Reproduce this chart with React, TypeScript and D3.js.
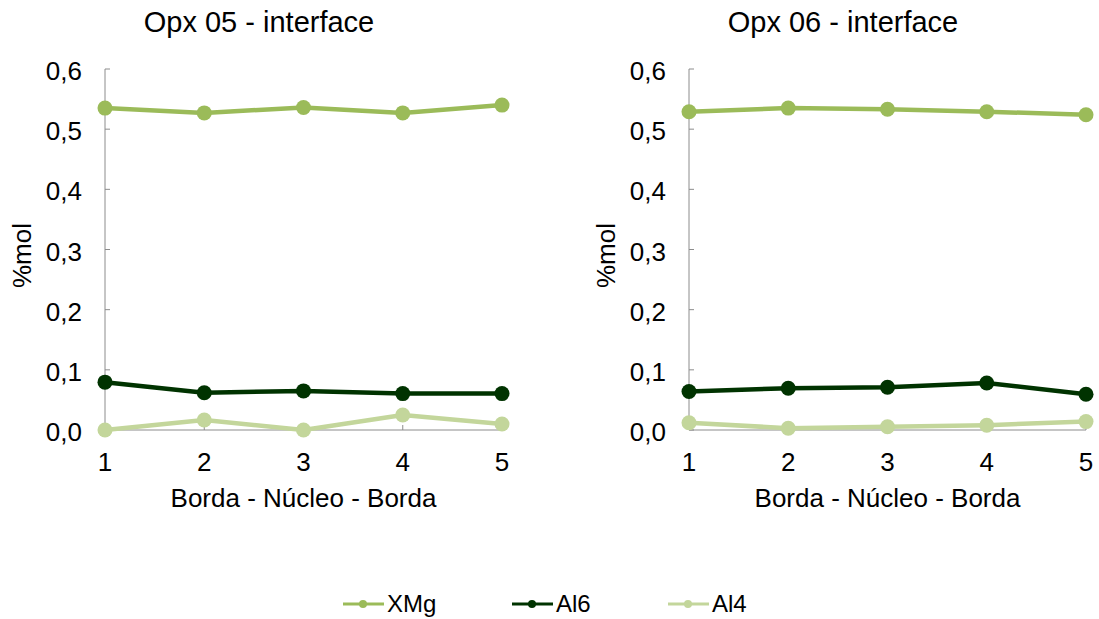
import React from 'react';
import * as d3 from 'd3';

const points = [1, 2, 3, 4, 5];
const yTicks = [0, 0.1, 0.2, 0.3, 0.4, 0.5, 0.6];

const opx05XMg = [0.535, 0.527, 0.536, 0.527, 0.54];
const opx05Al6 = [0.0795, 0.062, 0.065, 0.0605, 0.0605];
const opx05Al4 = [0.0, 0.0167, 0.0, 0.025, 0.01];

const opx06XMg = [0.529, 0.535, 0.533, 0.529, 0.524];
const opx06Al6 = [0.064, 0.0695, 0.071, 0.078, 0.0595];
const opx06Al4 = [0.012, 0.003, 0.0055, 0.008, 0.014];

const seriesNames = ['XMg', 'Al6', 'Al4'];
const seriesColors = ['#9bbb59', '#003300', '#c3d69b'];

const panels = [
  { title: 'Opx 05 - interface', left: 105, series: [opx05XMg, opx05Al6, opx05Al4] },
  { title: 'Opx 06 - interface', left: 689, series: [opx06XMg, opx06Al6, opx06Al4] },
];

const font = '"Liberation Sans", Arial, sans-serif';
const fmt = (v: number) => v.toFixed(1).replace('.', ',');

const Panel = ({ title, left, series }: { title: string; left: number; series: number[][] }) => {
  const width = 397;
  const top = 69;
  const bottom = 430;
  const x = d3.scalePoint<number>().domain(points).range([left, left + width]);
  const y = d3.scaleLinear().domain([0, 0.6]).range([bottom, top]);
  const line = d3.line<number>().x((_, i) => x(points[i])!).y(d => y(d));
  const axisColor = '#8c8c8c';
  return (
    <g>
      <text x={left + 154} y={32} fontSize={29} textAnchor="middle" fontFamily={font}>{title}</text>
      {/* y axis */}
      <line x1={left} x2={left} y1={top} y2={bottom} stroke={axisColor} strokeWidth={1} />
      {yTicks.map(t => (
        <g key={t}>
          <line x1={left} x2={left + 5} y1={y(t)} y2={y(t)} stroke={axisColor} />
          <text x={left - 23} y={y(t) + 2} dy="0.35em" fontSize={26} textAnchor="end" fontFamily={font}>{fmt(t)}</text>
        </g>
      ))}
      <text transform={`translate(${left - 83},${(top + bottom) / 2 + 6}) rotate(-90)`} fontSize={26} textAnchor="middle" dy="0.35em" fontFamily={font}>%mol</text>
      {/* x axis */}
      <line x1={left} x2={left + width} y1={bottom} y2={bottom} stroke={axisColor} />
      {points.map(p => (
        <g key={p}>
          <line x1={x(p)} x2={x(p)} y1={bottom} y2={bottom - 5} stroke={axisColor} />
          <text x={x(p)} y={bottom + 41} fontSize={26} textAnchor="middle" fontFamily={font}>{p}</text>
        </g>
      ))}
      <text x={left + width / 2} y={bottom + 77} fontSize={26} textAnchor="middle" fontFamily={font}>Borda - Núcleo - Borda</text>
      {/* series, drawn back to front */}
      {[2, 1, 0].map(si => (
        <g key={si}>
          <path d={line(series[si]) || ''} fill="none" stroke={seriesColors[si]} strokeWidth={4.5} strokeLinejoin="round" />
          {series[si].map((v, i) => (
            <circle key={i} cx={x(points[i])} cy={y(v)} r={7.5} fill={seriesColors[si]} />
          ))}
        </g>
      ))}
    </g>
  );
};

const legendX = [343, 512, 668];

export default function App() {
  return (
    <svg width={1099} height={619} style={{ position: 'absolute', left: 0, top: 0, background: '#fff' }}>
      <rect width={1099} height={619} fill="#fff" />
      {panels.map(p => <Panel key={p.title} {...p} />)}
      {seriesNames.map((name, i) => (
        <g key={name}>
          <line x1={legendX[i]} x2={legendX[i] + 41} y1={604} y2={604} stroke={seriesColors[i]} strokeWidth={3} />
          <circle cx={legendX[i] + 20} cy={604} r={4} fill={seriesColors[i]} />
          <text x={legendX[i] + 44} y={604} dy="0.35em" fontSize={24} fontFamily={font}>{name}</text>
        </g>
      ))}
    </svg>
  );
}
